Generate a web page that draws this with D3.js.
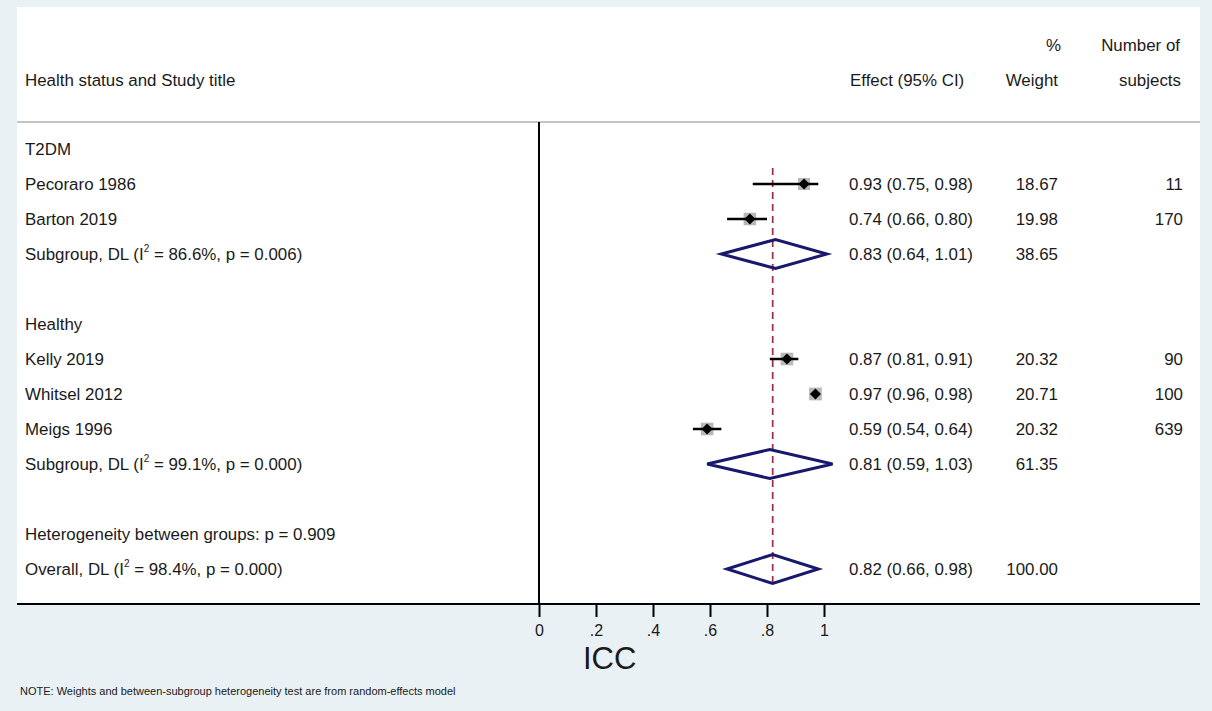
<!DOCTYPE html>
<html>
<head>
<meta charset="utf-8">
<script src="https://cdn.jsdelivr.net/npm/d3@7"></script>
<style>
  body { margin: 0; background: #e9f1f4; }
  svg { display: block; font-family: "Liberation Sans", Arial, sans-serif; }
</style>
</head>
<body>
<svg id="chart" width="1212" height="711"></svg>
<script>
// rows of the forest plot, top to bottom
var labels = ["T2DM", "Pecoraro 1986", "Barton 2019", "Subgroup, DL", "",
              "Healthy", "Kelly 2019", "Whitsel 2012", "Meigs 1996", "Subgroup, DL", "",
              "Heterogeneity between groups: p = 0.909", "Overall, DL"];
var kinds = ["head", "study", "study", "pool", "blank",
             "head", "study", "study", "study", "pool", "blank",
             "head", "pool"];
var i2text = [null, null, null, "86.6%, p = 0.006", null,
              null, null, null, null, "99.1%, p = 0.000", null,
              null, "98.4%, p = 0.000"];
var effect = [null, 0.93, 0.74, 0.83, null, null, 0.87, 0.97, 0.59, 0.81, null, null, 0.82];
var lower  = [null, 0.75, 0.66, 0.64, null, null, 0.81, 0.96, 0.54, 0.59, null, null, 0.66];
var upper  = [null, 0.98, 0.80, 1.01, null, null, 0.91, 0.98, 0.64, 1.03, null, null, 0.98];
var weight = [null, 18.67, 19.98, 38.65, null, null, 20.32, 20.71, 20.32, 61.35, null, null, 100.00];
var subjects = [null, 11, 170, null, null, null, 90, 100, 639, null, null, null, null];
var overallEffect = 0.82;
var xTicks = [0, 0.2, 0.4, 0.6, 0.8, 1];

var svg = d3.select("#chart");
var f2 = d3.format(".2f");
var fs = 16.9;

var x = d3.scaleLinear().domain([0, 1]).range([539, 824]);
var y = d3.scaleLinear().domain([0, 1]).range([149, 184]);

// white plot region
svg.append("rect").attr("x", 17).attr("y", 7).attr("width", 1183).attr("height", 597).attr("fill", "#fff");

// header
var hdr = svg.append("g").attr("font-size", fs).attr("fill", "#1a1a1a");
hdr.append("text").attr("x", 25).attr("y", 86).text("Health status and Study title");
hdr.append("text").attr("x", 850).attr("y", 86).text("Effect (95% CI)");
hdr.append("text").attr("x", 1061).attr("y", 51).attr("text-anchor", "end").text("%");
hdr.append("text").attr("x", 1058).attr("y", 86).attr("text-anchor", "end").text("Weight");
hdr.append("text").attr("x", 1180).attr("y", 51).attr("text-anchor", "end").text("Number of");
hdr.append("text").attr("x", 1181).attr("y", 86).attr("text-anchor", "end").text("subjects");
svg.append("line").attr("x1", 17).attr("x2", 1200).attr("y1", 122).attr("y2", 122)
  .attr("stroke", "#c4c4c4").attr("stroke-width", 2);

var rows = labels.map(function(d, i) { return i; });

// row labels
var lab = svg.append("g").attr("font-size", fs).attr("fill", "#1a1a1a")
  .selectAll("text").data(rows.filter(function(i) { return kinds[i] != "blank"; })).enter()
  .append("text").attr("x", 25).attr("y", function(i) { return y(i) + 6; });
lab.each(function(i) {
  var t = d3.select(this);
  if (i2text[i]) {
    t.append("tspan").text(labels[i] + " (I");
    t.append("tspan").attr("font-size", 10).attr("dy", -8).text("2");
    t.append("tspan").attr("dy", 8).text(" = " + i2text[i] + ")");
  } else {
    t.text(labels[i]);
  }
});

// effect, weight, subjects columns
var num = svg.append("g").attr("font-size", fs).attr("fill", "#1a1a1a");
var withEff = rows.filter(function(i) { return effect[i] != null; });
num.selectAll(".eff").data(withEff).enter().append("text")
  .attr("x", 849).attr("y", function(i) { return y(i) + 6; })
  .text(function(i) { return f2(effect[i]) + " (" + f2(lower[i]) + ", " + f2(upper[i]) + ")"; });
num.selectAll(".wt").data(withEff).enter().append("text")
  .attr("x", 1058).attr("y", function(i) { return y(i) + 6; }).attr("text-anchor", "end")
  .text(function(i) { return f2(weight[i]); });
num.selectAll(".n").data(rows.filter(function(i) { return subjects[i] != null; })).enter().append("text")
  .attr("x", 1183).attr("y", function(i) { return y(i) + 6; }).attr("text-anchor", "end")
  .text(function(i) { return subjects[i]; });

// overall effect dashed line
svg.append("line").attr("x1", x(overallEffect)).attr("x2", x(overallEffect))
  .attr("y1", 168).attr("y2", 586)
  .attr("stroke", "#9c2d45").attr("stroke-width", 1.7).attr("stroke-dasharray", "7,5");

// study markers
var studies = rows.filter(function(i) { return kinds[i] == "study"; });
var g = svg.append("g");
g.selectAll(".box").data(studies).enter().append("rect")
  .attr("fill", "#b8b8b8")
  .attr("x", function(i) { return x(effect[i]) - Math.sqrt(weight[i]) * 1.4; })
  .attr("y", function(i) { return y(i) - Math.sqrt(weight[i]) * 1.4; })
  .attr("width", function(i) { return Math.sqrt(weight[i]) * 2.8; })
  .attr("height", function(i) { return Math.sqrt(weight[i]) * 2.8; });
g.selectAll(".ci").data(studies).enter().append("line")
  .attr("x1", function(i) { return x(lower[i]); })
  .attr("x2", function(i) { return x(upper[i]); })
  .attr("y1", function(i) { return y(i); }).attr("y2", function(i) { return y(i); })
  .attr("stroke", "#000").attr("stroke-width", 2.5);
g.selectAll(".pt").data(studies).enter().append("path")
  .attr("d", function(i) {
    var cx = x(effect[i]), cy = y(i);
    return "M" + (cx - 5.5) + "," + cy + "L" + cx + "," + (cy - 5.5) + "L" + (cx + 5.5) + "," + cy + "L" + cx + "," + (cy + 5.5) + "Z";
  })
  .attr("fill", "#000");

// pooled diamonds
g.selectAll(".dia").data(rows.filter(function(i) { return kinds[i] == "pool"; })).enter().append("path")
  .attr("d", function(i) {
    var cy = y(i);
    return "M" + x(lower[i]) + "," + cy + "L" + x(effect[i]) + "," + (cy - 14.5) +
      "L" + x(upper[i]) + "," + cy + "L" + x(effect[i]) + "," + (cy + 14.5) + "Z";
  })
  .attr("fill", "none").attr("stroke", "#18196e").attr("stroke-width", 3).attr("stroke-linejoin", "miter");

// axes lines
svg.append("line").attr("x1", 539).attr("x2", 539).attr("y1", 122).attr("y2", 604)
  .attr("stroke", "#000").attr("stroke-width", 2);
svg.append("line").attr("x1", 17).attr("x2", 1200).attr("y1", 604).attr("y2", 604)
  .attr("stroke", "#000").attr("stroke-width", 2);

var axis = d3.axisBottom(x).tickValues(xTicks).tickSize(13).tickPadding(8)
  .tickFormat(function(d) { return d === 0 ? "0" : d === 1 ? "1" : d3.format(".1f")(d).replace(/^0/, ""); });
var ax = svg.append("g").attr("transform", "translate(0,604)").call(axis);
ax.select(".domain").remove();
ax.selectAll(".tick line").attr("stroke", "#000").attr("stroke-width", 2);
ax.selectAll(".tick text").attr("font-size", 16).attr("fill", "#1a1a1a")
  .attr("font-family", "Liberation Sans, Arial, sans-serif");

svg.append("text").attr("x", 583).attr("y", 669).attr("font-size", 31).attr("fill", "#1a1a1a").text("ICC");

svg.append("text").attr("x", 20).attr("y", 695).attr("font-size", 11).attr("fill", "#1a1a1a")
  .text("NOTE: Weights and between-subgroup heterogeneity test are from random-effects model");
</script>
</body>
</html>
